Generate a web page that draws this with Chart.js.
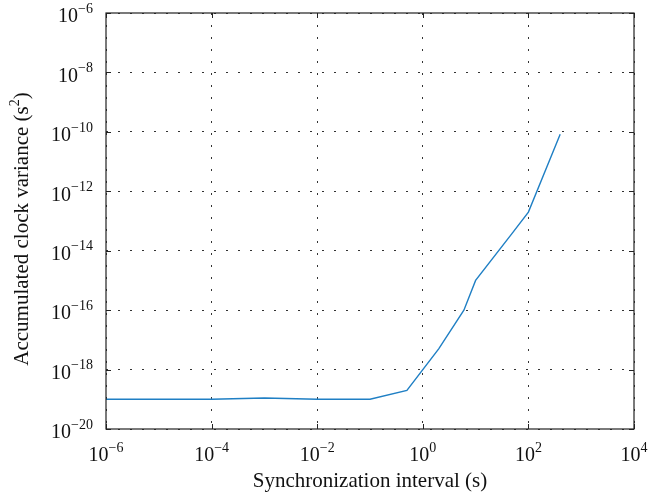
<!DOCTYPE html>
<html>
<head>
<meta charset="utf-8">
<script src="https://cdn.jsdelivr.net/npm/chart.js@4/dist/chart.umd.min.js"></script>
<style>
  html, body { margin: 0; padding: 0; background: #fff; }
  #wrap { width: 658px; height: 496px; }
</style>
</head>
<body>
<div id="wrap"><canvas id="chart"></canvas></div>
<script>
// synchronization interval (s) and accumulated variance (s^2)
var intervals = [1e-6, 1e-5, 1e-4, 1e-3, 1e-2, 1e-1, 0.5, 2, 6, 10, 50, 100, 400];
var variances = [1e-19, 1e-19, 1e-19, 1.1e-19, 1e-19, 1e-19, 2e-19, 5e-18, 1e-16, 1e-15, 4e-14, 2e-13, 8.3e-11];
var xTickExps = [-6, -4, -2, 0, 2, 4];
var yTickExps = [-20, -18, -16, -14, -12, -10, -8, -6];

var xTitle = 'Synchronization interval (s)';
var yTitle = 'Accumulated clock variance (s';

var FONT = '"Liberation Serif", "DejaVu Serif", serif';

function expLabel(e) {
    return e < 0 ? '\u2212' + Math.abs(e) : String(e);
}

// draws frame, inward ticks, power-of-ten labels and titles
const axisDecor = {
    id: 'axisDecor',
    afterDraw(chart) {
        const { ctx, chartArea: a, scales } = chart;
        const xs = scales.x, ys = scales.y;
        ctx.save();
        ctx.strokeStyle = '#222';
        ctx.lineWidth = 1.2;
        ctx.strokeRect(a.left, a.top, a.right - a.left, a.bottom - a.top);

        ctx.lineWidth = 1;
        ctx.beginPath();
        xTickExps.forEach(function(e) {
            var px = Math.round(xs.getPixelForValue(Math.pow(10, e))) + 0.5;
            ctx.moveTo(px, a.bottom); ctx.lineTo(px, a.bottom - 5);
            ctx.moveTo(px, a.top); ctx.lineTo(px, a.top + 5);
        });
        yTickExps.forEach(function(e) {
            var py = Math.round(ys.getPixelForValue(Math.pow(10, e))) + 0.5;
            ctx.moveTo(a.left, py); ctx.lineTo(a.left + 5, py);
            ctx.moveTo(a.right, py); ctx.lineTo(a.right - 5, py);
        });
        ctx.stroke();

        ctx.fillStyle = '#111';
        ctx.textBaseline = 'middle';
        var big = '20px ' + FONT, small = '14px ' + FONT;

        // x labels
        xTickExps.forEach(function(e) {
            var px = xs.getPixelForValue(Math.pow(10, e));
            ctx.font = big;
            var wb = ctx.measureText('10').width;
            ctx.font = small;
            var ex = expLabel(e);
            var we = ctx.measureText(ex).width;
            var start = px - (wb + we) / 2;
            ctx.textAlign = 'left';
            ctx.font = big;
            ctx.fillText('10', start, a.bottom + 27);
            ctx.font = small;
            ctx.fillText(ex, start + wb, a.bottom + 19);
        });

        // y labels
        yTickExps.forEach(function(e) {
            var py = ys.getPixelForValue(Math.pow(10, e));
            var right = a.left - 13;
            ctx.font = small;
            var ex = expLabel(e);
            var we = ctx.measureText(ex).width;
            ctx.textAlign = 'left';
            ctx.fillText(ex, right - we, py - 4);
            ctx.textAlign = 'right';
            ctx.font = big;
            ctx.fillText('10', right - we, py + 4);
        });

        // x title
        ctx.font = '21px ' + FONT;
        ctx.textAlign = 'center';
        ctx.fillText(xTitle, (a.left + a.right) / 2, a.bottom + 52);

        // y title with superscript 2
        ctx.save();
        ctx.translate(22, (a.top + a.bottom) / 2 + 8);
        ctx.rotate(-Math.PI / 2);
        ctx.font = '21px ' + FONT;
        var w1 = ctx.measureText(yTitle).width;
        ctx.font = '14px ' + FONT;
        var w2 = ctx.measureText('2').width;
        ctx.font = '21px ' + FONT;
        var w3 = ctx.measureText(')').width;
        var s = -(w1 + w2 + w3) / 2;
        ctx.textAlign = 'left';
        ctx.fillText(yTitle, s, 0);
        ctx.font = '14px ' + FONT;
        ctx.fillText('2', s + w1, -7);
        ctx.font = '21px ' + FONT;
        ctx.fillText(')', s + w1 + w2, 0);
        ctx.restore();

        ctx.restore();
    }
};

var points = intervals.map(function(x, i) { return { x: x, y: variances[i] }; });

var ctx = document.getElementById('chart').getContext('2d');
var chart = new Chart(ctx, {
    type: 'scatter',
    data: {
        datasets: [{
            data: points,
            showLine: true,
            borderColor: '#1f7fc4',
            borderWidth: 1.4,
            pointRadius: 0,
            fill: false
        }]
    },
    options: {
        responsive: true,
        maintainAspectRatio: false,
        animation: false,
        layout: { padding: { left: 106, right: 24, top: 13, bottom: 67 } },
        plugins: { legend: { display: false }, tooltip: { enabled: false } },
        scales: {
            x: {
                type: 'logarithmic',
                min: 1e-6,
                max: 1e4,
                afterBuildTicks: function(scale) {
                    scale.ticks = xTickExps.map(function(e) { return { value: Math.pow(10, e) }; });
                },
                ticks: { display: false },
                border: { display: false, dash: [2, 10] },
                grid: { color: '#333', lineWidth: 1, drawTicks: false }
            },
            y: {
                type: 'logarithmic',
                min: 1e-20,
                max: 1e-6,
                afterBuildTicks: function(scale) {
                    scale.ticks = yTickExps.map(function(e) { return { value: Math.pow(10, e) }; });
                },
                ticks: { display: false },
                border: { display: false, dash: [2, 10] },
                grid: { color: '#333', lineWidth: 1, drawTicks: false }
            }
        }
    },
    plugins: [axisDecor]
});
</script>
</body>
</html>
